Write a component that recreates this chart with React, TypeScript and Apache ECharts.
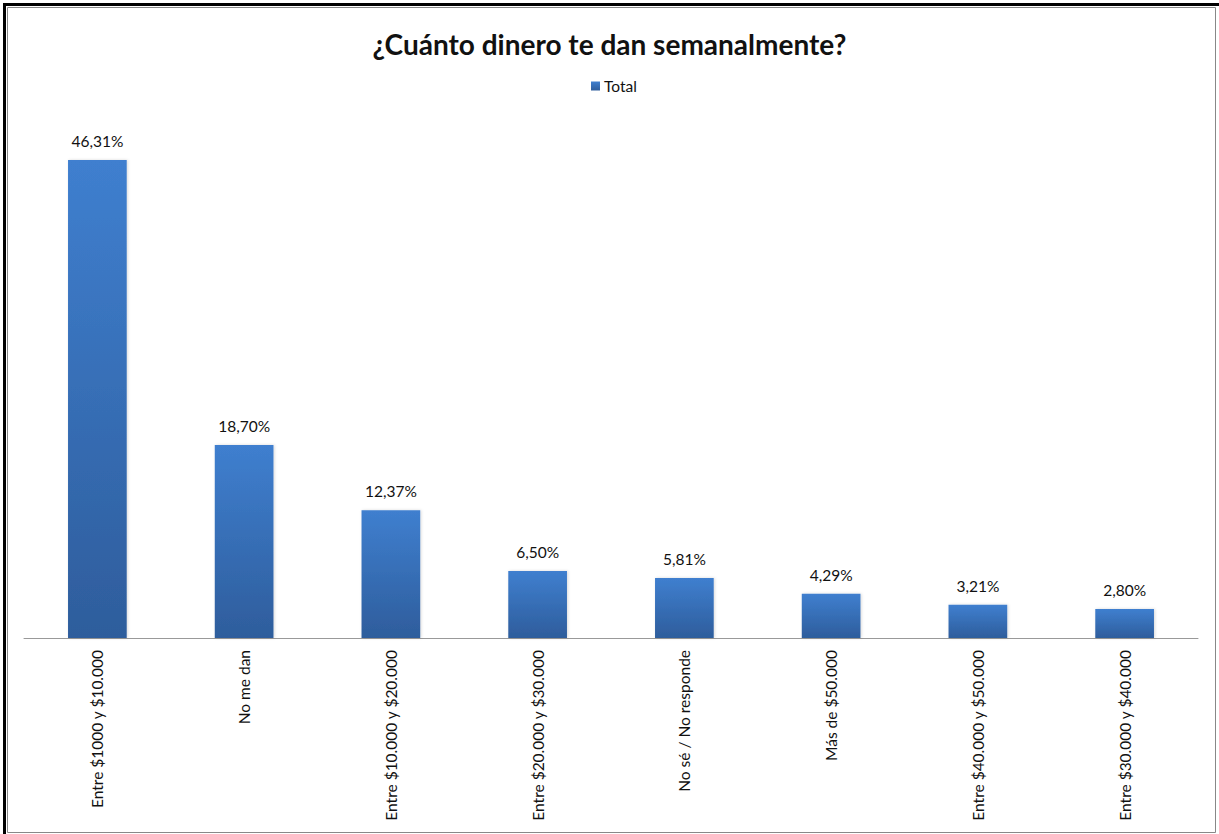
import React, { useEffect, useRef } from "react";
import * as echarts from "echarts";

const categories = [
  "Entre $1000 y $10.000",
  "No me dan",
  "Entre $10.000 y $20.000",
  "Entre $20.000 y $30.000",
  "No sé / No responde",
  "Más de $50.000",
  "Entre $40.000 y $50.000",
  "Entre $30.000 y $40.000",
];
const values = [46.31, 18.7, 12.37, 6.5, 5.81, 4.29, 3.21, 2.8];
const seriesName = "Total";
const chartTitle = "¿Cuánto dinero te dan semanalmente?";

export default function App() {
  const ref = useRef<HTMLDivElement>(null);
  useEffect(() => {
    document.body.style.margin = "0";
    const chart = echarts.init(ref.current!, null, { renderer: "svg" });
    const font = "Lato, 'Open Sans', sans-serif";
    chart.setOption({
      animation: false,
      backgroundColor: "#ffffff",
      title: {
        text: chartTitle,
        left: "center",
        top: 25,
        textStyle: { fontFamily: font, fontSize: 28, fontWeight: "bold", color: "#111" },
      },
      legend: {
        data: [seriesName],
        top: 73,
        left: 586,
        itemWidth: 9,
        itemHeight: 9,
        itemGap: 4,
        icon: "rect",
        textStyle: { fontFamily: font, fontSize: 15.5, color: "#111", padding: [0, 0, 0, -1] },
      },
      grid: { left: 24, right: 21, top: 122, bottom: 196, containLabel: false },
      xAxis: {
        type: "category",
        data: categories,
        axisLine: { lineStyle: { color: "#999", width: 1 } },
        axisTick: { show: false },
        axisLabel: {
          rotate: 90,
          interval: 0,
          margin: 12,
          fontFamily: font,
          fontSize: 15.5,
          color: "#111",
        },
      },
      yAxis: {
        type: "value",
        min: 0,
        max: 50,
        show: false,
        splitLine: { show: false },
      },
      series: [
        {
          name: seriesName,
          type: "bar",
          data: values,
          barWidth: "40%",
          itemStyle: {
            color: new echarts.graphic.LinearGradient(0, 0, 0, 1, [
              { offset: 0, color: "#3f7fcf" },
              { offset: 1, color: "#2e5d9c" },
            ]),
            shadowColor: "rgba(0,0,0,0.15)",
            shadowBlur: 3,
            shadowOffsetX: 1,
          },
          label: {
            show: true,
            position: "top",
            distance: 11,
            fontFamily: font,
            fontSize: 15.5,
            color: "#111",
            formatter: (p: any) => p.value.toFixed(2).replace(".", ",") + "%",
          },
        },
      ],
      graphic: [
        {
          type: "rect",
          shape: { x: 7.5, y: 7.5, width: 1208, height: 825 },
          style: { fill: "none", stroke: "#888", lineWidth: 1 },
        },
        {
          type: "polyline",
          shape: { points: [[4.5, 834], [4.5, 4.5], [1219, 4.5]] },
          style: { fill: "none", stroke: "#000", lineWidth: 3 },
        },
      ],
    });
    return () => chart.dispose();
  }, []);
  return <div ref={ref} style={{ width: 1219, height: 834 }} />;
}
